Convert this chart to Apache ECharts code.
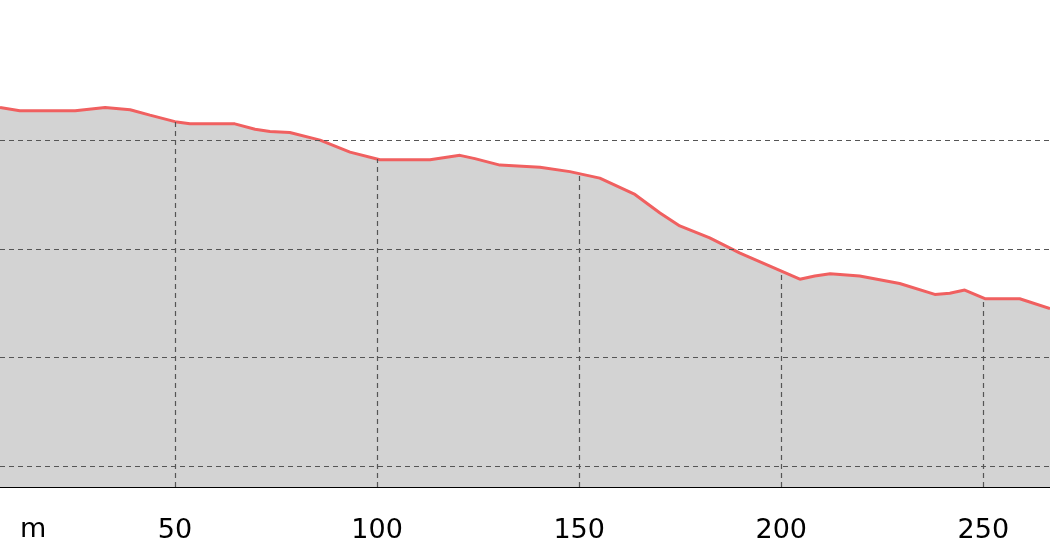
<!DOCTYPE html>
<html><head><meta charset="utf-8">
<script src="https://cdn.jsdelivr.net/npm/echarts@6/dist/echarts.min.js"></script>
<style>html,body{margin:0;background:#fff}#c{width:1050px;height:560px}</style>
</head><body><div id="c"></div>
<script>
const distance = [6.7, 11.6, 25.3, 32.7, 38.9, 43.8, 50, 53.7, 64.8, 69.8, 73.5, 78.4, 85.9, 93.3, 100.7, 113.1, 120.5, 124.2, 130.4, 140.3, 147.7, 155.1, 163.8, 170, 174.9, 182.3, 189.8, 197.2, 204.6, 208.3, 212.1, 219.4, 229.3, 238, 241.7, 245.4, 250.4, 259, 266.5];
const elevation = [403.0, 402.7, 402.7, 403.0, 402.8, 402.3, 401.7, 401.5, 401.5, 401.0, 400.8, 400.7, 400.0, 398.9, 398.2, 398.2, 398.6, 398.3, 397.7, 397.5, 397.1, 396.5, 395.0, 393.3, 392.1, 391.0, 389.6, 388.4, 387.2, 387.5, 387.7, 387.5, 386.8, 385.8, 385.9, 386.2, 385.4, 385.4, 384.5];
const xTicks = [50, 100, 150, 200, 250];
const yGrid = [370, 380, 390, 400];

const yMin = 368.07, yMax = 412.9;

function elevAt(x) {
  for (let i = 1; i < distance.length; i++) {
    if (x <= distance[i]) {
      const t = (x - distance[i-1]) / (distance[i] - distance[i-1]);
      return elevation[i-1] + t * (elevation[i] - elevation[i-1]);
    }
  }
  return elevation[elevation.length - 1];
}

const gridStyle = { color: '#555', type: [5, 4], width: 1.2 };
const marks = yGrid.map(v => ({ yAxis: v }))
  .concat(xTicks.map(x => [{ coord: [x, yMin] }, { coord: [x, elevAt(x)] }]));

const chart = echarts.init(document.getElementById('c'));
chart.setOption({
  animation: false,
  grid: { left: 0, right: 0, top: 0, bottom: 73 },
  xAxis: {
    type: 'value', min: 6.7, max: 266.5,
    axisLine: { lineStyle: { color: '#000', width: 2 } },
    axisTick: { show: false },
    splitLine: { show: false },
    axisLabel: {
      customValues: xTicks, color: '#000', fontSize: 27,
      fontFamily: 'DejaVu Sans', margin: 30
    }
  },
  yAxis: { type: 'value', min: yMin, max: yMax, show: false, splitLine: { show: false } },
  graphic: [{ type: 'text', left: 20, top: 516, style: { text: 'm', fontSize: 27, fontFamily: 'DejaVu Sans', fill: '#000' } }],
  series: [{
    type: 'line',
    data: distance.map((d, i) => [d, elevation[i]]),
    showSymbol: false,
    lineStyle: { color: '#f06060', width: 3 },
    areaStyle: { color: '#d3d3d3', opacity: 1 },
    markLine: { silent: true, symbol: 'none', label: { show: false }, lineStyle: gridStyle, data: marks }
  }]
});
</script></body></html>
